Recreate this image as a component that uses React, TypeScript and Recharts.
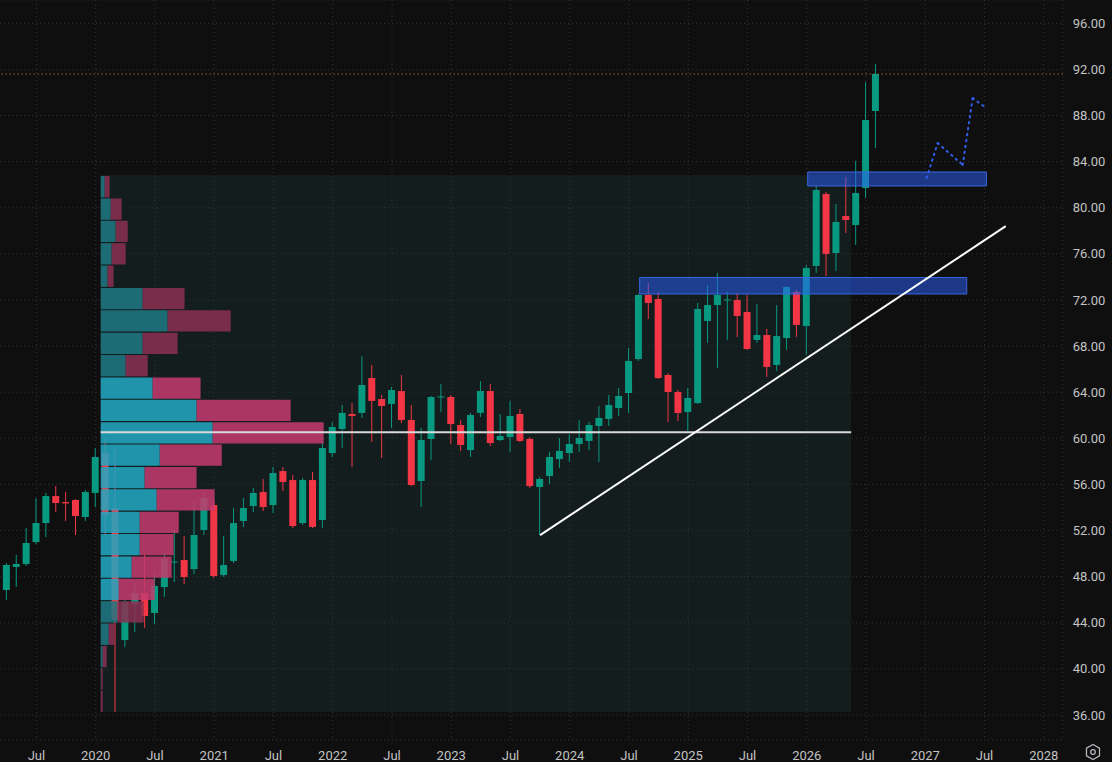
import React from 'react';
import { ComposedChart, Bar, XAxis, YAxis, CartesianGrid, ReferenceArea, ReferenceLine } from 'recharts';

// ---------- categories: monthly, Mar 2019 .. Jan 2028 ----------
const FIRST_YEAR = 2019;
const FIRST_MONTH = 2; // 0-based (March)
const MONTH_COUNT = 107;
const months: string[] = Array.from({ length: MONTH_COUNT }, (_, k) => {
  const m = FIRST_MONTH + k;
  const y = FIRST_YEAR + Math.floor(m / 12);
  return `${y}-${String((m % 12) + 1).padStart(2, '0')}`;
});
const timeTicks: string[] = months.filter((m) => m.endsWith('-01') || m.endsWith('-07'));

// ---------- monthly candles (Mar 2019 .. Aug 2026) ----------
const opens = [
  45.37, 46.84, 48.84, 49.1, 51.0, 52.65, 54.99, 54.47, 54.65, 53.17,
  55.26, 58.72, 53.95, 42.5, 45.63, 46.58, 44.85, 47.1, 49.23, 49.44,
  48.66, 52.05, 54.21, 48.14, 49.36, 52.83, 54.13, 55.34, 54.21, 57.16,
  56.38, 52.65, 56.38, 52.91, 58.72, 60.81, 62.11, 62.2, 65.23, 63.41,
  62.98, 64.1, 61.59, 56.3, 59.94, 63.54, 63.58, 61.15, 58.98, 62.2,
  64.1, 59.85, 60.11, 62.11, 59.94, 55.78, 56.73, 58.2, 58.72, 59.51,
  59.77, 61.07, 61.68, 62.63, 63.93, 66.88, 72.43, 72.08, 65.49, 64.02,
  62.28, 63.06, 70.18, 71.56, 71.95, 72.0, 70.96, 68.53, 68.96, 66.36,
  68.7, 72.69, 69.74, 74.95, 81.19, 76.07, 79.28, 78.5, 81.71, 88.39,
];
const highs = [
  47.27, 49.18, 49.88, 52.22, 54.82, 55.26, 55.86, 55.34, 54.73, 55.52,
  59.16, 60.03, 59.0, 45.97, 47.45, 49.88, 48.32, 50.05, 52.05, 51.52,
  54.56, 55.34, 54.65, 51.52, 53.95, 54.82, 55.69, 56.47, 57.51, 57.51,
  56.82, 56.56, 57.08, 59.68, 61.41, 62.89, 63.06, 67.14, 66.36, 63.76,
  64.45, 65.49, 62.89, 60.89, 63.67, 64.71, 63.76, 61.59, 62.2, 64.97,
  64.71, 62.11, 63.24, 62.54, 60.11, 56.64, 58.81, 60.03, 60.37, 61.59,
  61.41, 62.8, 63.76, 64.36, 67.83, 72.52, 73.47, 72.69, 65.66, 64.19,
  64.36, 71.74, 73.3, 74.34, 72.69, 72.6, 72.43, 71.65, 69.48, 71.56,
  73.21, 72.86, 75.03, 81.89, 81.37, 80.32, 82.67, 84.06, 90.91, 92.47,
];
const lows = [
  44.93, 45.97, 47.1, 48.92, 50.83, 51.44, 53.61, 52.83, 51.61, 52.83,
  54.04, 51.61, 36.26, 41.9, 43.2, 43.55, 43.89, 46.24, 47.53, 47.36,
  48.23, 51.61, 47.88, 47.97, 49.18, 52.31, 53.61, 53.69, 53.52, 55.43,
  52.22, 52.48, 52.22, 52.22, 58.38, 59.16, 57.51, 61.76, 59.68, 58.29,
  60.89, 61.33, 55.86, 54.04, 58.12, 62.28, 59.51, 58.9, 58.38, 61.85,
  59.33, 59.77, 58.81, 59.68, 55.69, 51.61, 56.04, 57.42, 57.94, 58.81,
  58.98, 57.94, 61.07, 61.94, 62.2, 66.71, 70.35, 65.14, 61.41, 61.5,
  60.63, 62.98, 68.27, 66.1, 68.53, 68.79, 67.66, 68.27, 65.32, 65.84,
  67.66, 68.79, 67.23, 74.34, 74.08, 74.51, 77.81, 76.77, 80.85, 85.18,
];
const closes = [
  46.84, 49.01, 49.1, 50.92, 52.65, 54.99, 54.39, 54.35, 53.26, 55.34,
  58.38, 53.35, 44.24, 45.8, 46.58, 44.59, 47.19, 49.53, 49.31, 47.97,
  51.61, 54.82, 48.06, 49.01, 52.65, 53.95, 55.26, 54.04, 56.99, 56.21,
  52.39, 56.38, 52.31, 59.16, 60.98, 62.2, 61.94, 64.62, 63.24, 62.8,
  64.19, 61.59, 55.95, 59.85, 63.58, 63.63, 61.24, 59.42, 62.02, 64.1,
  59.59, 60.2, 61.94, 59.77, 55.86, 56.47, 58.38, 58.9, 59.51, 60.03,
  61.15, 61.76, 62.89, 63.67, 66.71, 72.43, 71.74, 65.23, 64.02, 62.2,
  63.5, 71.22, 71.56, 72.43, 72.04, 70.61, 67.75, 68.96, 66.19, 68.87,
  73.12, 69.83, 74.77, 81.54, 75.99, 78.76, 78.94, 81.28, 87.61, 91.6,
];

// ---------- fixed-range volume profile (24 rows, top -> bottom) ----------
const vpHigh = 82.84;
const vpLow = 36.26;
const vpUp = [
  1.8, 4.5, 6.7, 4.9, 3.1, 18.8, 30.0, 18.8, 11.2, 23.3, 43.0, 50.2,
  26.5, 19.7, 25.1, 17.5, 17.5, 13.9, 8.1, 7.6, 3.6, 0.9, 0.2, 0,
];
const vpDown = [
  2.2, 4.9, 5.4, 6.3, 2.7, 18.8, 28.3, 15.7, 9.9, 21.5, 42.2, 49.8,
  27.8, 23.3, 26.0, 17.5, 15.2, 17.9, 16.1, 11.7, 2.7, 1.8, 0.7, 0.9,
];
const vpValueArea = [9, 18]; // first / last row inside the value area
const vpPoc = 60.52;
const vpRange = [10.5, 86.5]; // month-index span of the profile range

// ---------- drawings ----------
const boxLow = { x1: 65.08, x2: 98.2, y1: 72.52, y2: 73.95 };
const boxHigh = { x1: 82.1, x2: 100.2, y1: 81.89, y2: 83.1 };
const trendX = [55, 102.15];
const trendY = [51.6, 78.4];
const pathX = [94.14, 95.26, 97.79, 98.8, 100.02];
const pathY = [82.58, 85.62, 83.71, 89.52, 88.74];
const priceTicks = [36, 40, 44, 48, 52, 56, 60, 64, 68, 72, 76, 80, 84, 88, 92, 96];

const UP = '#089981';
const DOWN = '#f23645';
const BG = '#0f0f0f';
const TEXT = '#c3c3c3';
const FONT = 'Roboto, "Noto Sans", sans-serif';

const data = months.map((m, k) => {
  const has = k < opens.length;
  return {
    m,
    o: has ? opens[k] : null,
    h: has ? highs[k] : null,
    l: has ? lows[k] : null,
    c: has ? closes[k] : null,
    range: has ? [lows[k], highs[k]] : null,
  };
});

const Candle = (props: any) => {
  const { x, y, width, height, payload } = props;
  if (!payload || payload.o == null || y == null || isNaN(y)) return null;
  const { o, h, l, c } = payload;
  const top = Math.min(y, y + height);
  const hh = Math.abs(height);
  const span = h - l;
  const yOf = (v: number) => (span === 0 ? top : top + ((h - v) / span) * hh);
  const color = c >= o ? UP : DOWN;
  const bTop = yOf(Math.max(o, c));
  const bBot = yOf(Math.min(o, c));
  const cx = x + width / 2;
  return (
    <g>
      <line x1={cx} x2={cx} y1={top} y2={top + hh} stroke={color} strokeWidth={1} />
      <rect x={x} y={bTop} width={width} height={Math.max(1, bBot - bTop)} fill={color} />
    </g>
  );
};

const rowH = (vpHigh - vpLow) / vpUp.length;
const vpRows = vpUp.map((u, i) => {
  const hi = vpHigh - i * rowH;
  const lo = hi - rowH;
  const inVA = i >= vpValueArea[0] && i <= vpValueArea[1];
  return { u, d: vpDown[i], hi: hi - 0.09, lo, inVA, i };
});

const Gear = () => (
  <svg width={18} height={18} style={{ position: 'absolute', left: 1084, top: 743 }} viewBox="0 0 18 18">
    <polygon points="9,1.5 15.5,5.2 15.5,12.8 9,16.5 2.5,12.8 2.5,5.2" fill="none" stroke="#b2b5be" strokeWidth={1.3} />
    <circle cx={9} cy={9} r={2.3} fill="none" stroke="#b2b5be" strokeWidth={1.3} />
  </svg>
);

export default function App() {
  const pathSegs = pathX.slice(0, -1).map((x, i) => ({
    a: { x, y: pathY[i] },
    b: { x: pathX[i + 1], y: pathY[i + 1] },
  }));
  return (
    <div style={{ position: 'absolute', left: 0, top: 0, width: 1112, height: 762, background: BG, overflow: 'hidden', fontFamily: FONT }}>
      <div style={{ position: 'absolute', left: -7.7, top: 0 }}>
        <ComposedChart width={1120} height={762} data={data} margin={{ top: 0, right: 0, bottom: 0, left: 0 }}>
          <CartesianGrid stroke="#333333" strokeDasharray="1 3" />
          <XAxis
            dataKey="m"
            type="category"
            ticks={timeTicks}
            interval={0}
            padding={{ left: 0, right: 14 }}
            axisLine={false}
            tickLine={false}
            height={22}
            tickMargin={5}
            tick={{ fill: TEXT, fontSize: 13, fontFamily: FONT }}
            tickFormatter={(v: string) => (v.endsWith('-07') ? 'Jul' : v.slice(0, 4))}
          />
          <XAxis xAxisId="num" type="number" dataKey="k" domain={[-0.5, MONTH_COUNT - 0.5]} padding={{ left: 0, right: 14 }} hide allowDataOverflow />
          <XAxis xAxisId="vp" type="number" dataKey="v" domain={[-48.74, 431.4]} hide allowDataOverflow />
          <YAxis
            orientation="right"
            type="number"
            domain={[33.83, 98.02]}
            ticks={priceTicks}
            allowDataOverflow
            width={49.3}
            axisLine={false}
            tickLine={false}
            tickMargin={4}
            tick={{ fill: TEXT, fontSize: 13, fontFamily: FONT, textAnchor: 'start' }}
            tickFormatter={(v: number) => v.toFixed(2)}
          />
          <ReferenceArea xAxisId="num" x1={vpRange[0]} x2={vpRange[1]} y1={vpLow} y2={vpHigh} fill="#1c3a3c" fillOpacity={0.35} stroke="none" ifOverflow="extendDomain" />
          <Bar dataKey={(d: any) => d.range} barSize={7} shape={Candle} isAnimationActive={false} />
          {vpRows.map((r) =>
            r.u > 0 ? (
              <ReferenceArea key={`u${r.i}`} xAxisId="vp" x1={0} x2={r.u} y1={r.lo} y2={r.hi}
                fill={r.inVA ? '#23a8c2' : '#1f7884'} fillOpacity={0.86} stroke="none" zIndex={450} />
            ) : null
          )}
          {vpRows.map((r) => (
            <ReferenceArea key={`d${r.i}`} xAxisId="vp" x1={r.u} x2={r.u + r.d} y1={r.lo} y2={r.hi}
              fill={r.inVA ? '#c53a70' : '#8a3052'} fillOpacity={0.86} stroke="none" zIndex={450} />
          ))}
          <ReferenceLine xAxisId="num" segment={[{ x: vpRange[0], y: vpPoc }, { x: vpRange[1], y: vpPoc }]} stroke="#d9d9d9" strokeWidth={2} zIndex={500} />
          <ReferenceArea xAxisId="num" x1={boxLow.x1} x2={boxLow.x2} y1={boxLow.y1} y2={boxLow.y2} fill="#2962ff" fillOpacity={0.5} stroke="#3a66e0" strokeWidth={1} zIndex={460} />
          <ReferenceArea xAxisId="num" x1={boxHigh.x1} x2={boxHigh.x2} y1={boxHigh.y1} y2={boxHigh.y2} fill="#2962ff" fillOpacity={0.5} stroke="#3a66e0" strokeWidth={1} zIndex={460} />
          <ReferenceLine xAxisId="num" segment={[{ x: trendX[0], y: trendY[0] }, { x: trendX[1], y: trendY[1] }]} stroke="#ffffff" strokeWidth={2} zIndex={500} />
          {pathSegs.map((s, i) => (
            <ReferenceLine key={`p${i}`} xAxisId="num" segment={[s.a, s.b]} stroke="#2f5fe8" strokeWidth={2} strokeDasharray="1.5 4.5" strokeLinecap="round" zIndex={500} />
          ))}
          <ReferenceLine y={closes[closes.length - 1]} stroke="#e08a2c" strokeWidth={1} strokeDasharray="1 3" zIndex={500} />
        </ComposedChart>
      </div>
      <Gear />
    </div>
  );
}
